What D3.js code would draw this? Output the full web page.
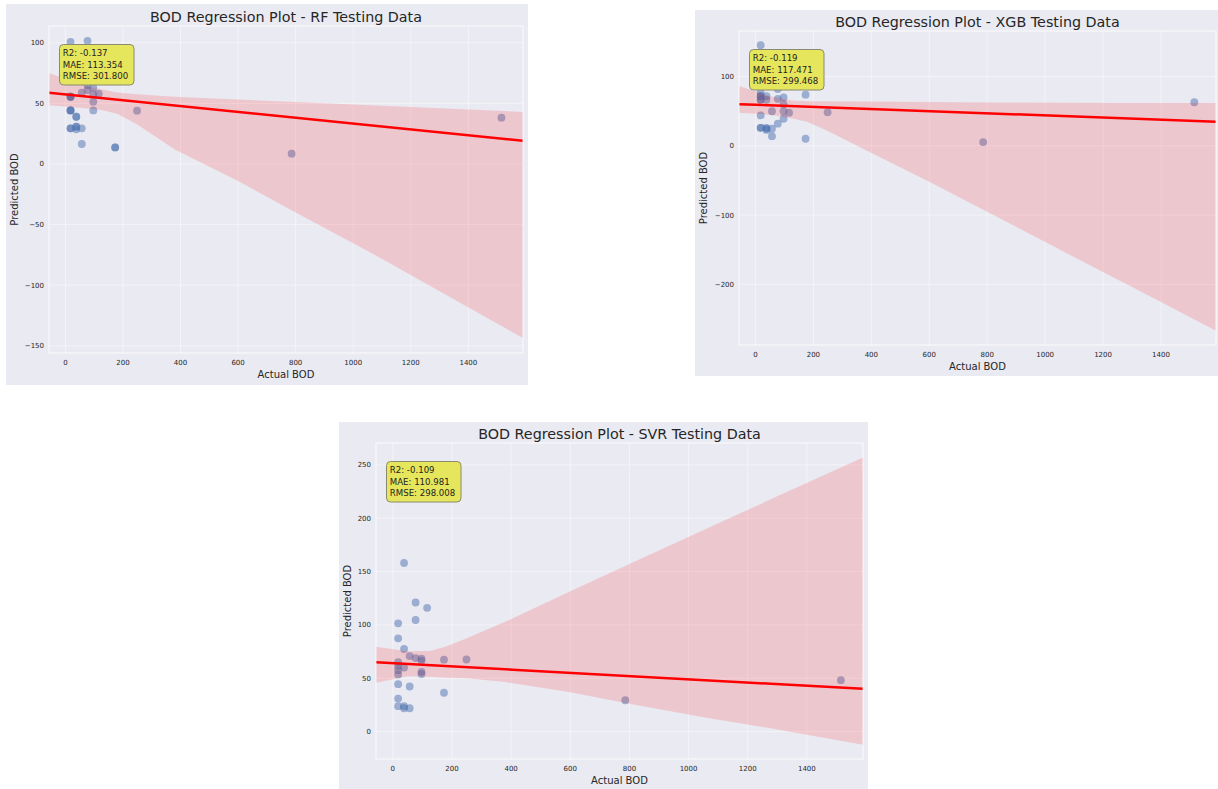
<!DOCTYPE html>
<html>
<head>
<meta charset="utf-8">
<script src="https://cdn.jsdelivr.net/npm/d3@7"></script>
<style>
  body { margin: 0; background: #ffffff; }
  svg { display: block; font-family: "DejaVu Sans", sans-serif; }
</style>
</head>
<body>
<svg id="chart" width="1218" height="789"></svg>
<script>
// Observed BOD values of the test split, shared by all three models
const actualBOD = [18, 18, 18, 18, 18, 18, 18, 18, 18,
                   38, 38, 38, 38, 38,
                   57, 57, 57,
                   77, 77, 77,
                   97, 97, 97, 97,
                   116, 173, 173, 249, 786, 1515];

// Model predictions, in the same order as actualBOD
const predRF  = [100.8, 55.5, 44.2, 44.2, 29.4, 55.5, 44.2, 29.4, 55.5,
                 39, 30.8, 28.6, 30.8, 39,
                 58.8, 29.4, 16.5,
                 101.6, 61, 65,
                 63, 57.5, 51.4, 44.2,
                 58, 13.7, 13.7, 44, 8.5, 38.2];
const predXGB = [145.3, 76.7, 71.8, 66.7, 44, 26, 66.7, 71.8, 26,
                 71.8, 66.5, 26, 23, 24.8,
                 50, 14, 24.8,
                 82, 68, 32,
                 70, 60, 50, 39.2,
                 48, 74, 10.3, 48.7, 5.5, 63];
const predSVR = [101.5, 87.4, 65, 61.4, 57.6, 53.6, 44.5, 31, 23.8,
                 158, 77.4, 60, 23.8, 21.9,
                 70.8, 42.3, 21.9,
                 121, 104.6, 68.9,
                 68.3, 66.4, 56, 54,
                 116, 67.4, 36.4, 67.6, 29.4, 48.2];

// Regression fits: [intercept, slope]
const fitRF  = [57.43, -0.02404];
const fitXGB = [59.32, -0.01536];
const fitSVR = [64.23, -0.01518];

// Bootstrap confidence band of each fit, sampled along actual BOD
const ciX     = [-57, 50, 125, 180, 250, 380, 600, 800, 1060, 1300, 1590];
const ciLoRF  = [48.4, 46.5, 44.5, 41.5, 32.5, 12, -14, -40, -73, -105, -143.7];
const ciHiRF  = [75, 66, 61.6, 59, 57.5, 55.5, 53.2, 51.2, 48.5, 46, 43];
const ciLoXGB = [47.8, 45, 40, 34.5, 21.5, -6, -52, -95, -152, -204, -267];
const ciHiXGB = [86.5, 71.5, 65.5, 64.6, 64.3, 64, 63.3, 62.8, 62.2, 62.1, 62];
const ciLoSVR = [45.8, 52, 51.5, 50.5, 50, 46.5, 37, 26.2, 13, 2.1, -12.2];
const ciHiSVR = [79.6, 75.3, 75.5, 79.7, 87.4, 103, 131.5, 157, 190, 220.5, 257];

// Error metrics shown in each panel
const modelNames = ["RF", "XGB", "SVR"];
const metricR2   = ["-0.137", "-0.119", "-0.109"];
const metricMAE  = ["113.354", "117.471", "110.981"];
const metricRMSE = ["301.800", "299.468", "298.008"];

// Tick values
const xTicks    = [0, 200, 400, 600, 800, 1000, 1200, 1400];
const yTicksRF  = [-150, -100, -50, 0, 50, 100];
const yTicksXGB = [-200, -100, 0, 100];
const yTicksSVR = [0, 50, 100, 150, 200, 250];

const svg = d3.select("#chart");
const BG = "#eaeaf2";
const TEXT = "#262626";
const fmt = v => (v < 0 ? "\u2212" + Math.abs(v) : String(v));

const panels = [
  { i: 0, pred: predRF,  fit: fitRF,  lo: ciLoRF,  hi: ciHiRF,  yTicks: yTicksRF,
    fig: { x: 6, y: 4, w: 522, h: 381 },   ax: { l: 49, t: 26, r: 523, b: 353 } },
  { i: 1, pred: predXGB, fit: fitXGB, lo: ciLoXGB, hi: ciHiXGB, yTicks: yTicksXGB,
    fig: { x: 695, y: 10, w: 523, h: 366 }, ax: { l: 739, t: 31, r: 1216, b: 345 } },
  { i: 2, pred: predSVR, fit: fitSVR, lo: ciLoSVR, hi: ciHiSVR, yTicks: yTicksSVR,
    fig: { x: 339, y: 422, w: 529, h: 367 }, ax: { l: 376, t: 443, r: 863, b: 759 } }
];

// Axis limits with a 5% margin around the data, like matplotlib autoscaling
function padded(lo, hi) {
  const m = (hi - lo) * 0.05;
  return [lo - m, hi + m];
}

panels.forEach(p => {
  const { fig, ax } = p;
  const g = svg.append("g");

  g.append("rect").attr("x", fig.x).attr("y", fig.y)
    .attr("width", fig.w).attr("height", fig.h).attr("fill", BG);

  const xDom = padded(d3.min(actualBOD), d3.max(actualBOD));
  const yAll = p.pred.concat(p.lo, p.hi);
  const yDom = padded(d3.min(yAll), d3.max(yAll));

  const x = d3.scaleLinear().domain(xDom).range([ax.l, ax.r]);
  const y = d3.scaleLinear().domain(yDom).range([ax.b, ax.t]);

  const clipId = "clip" + p.i;
  g.append("clipPath").attr("id", clipId)
    .append("rect").attr("x", ax.l).attr("y", ax.t)
    .attr("width", ax.r - ax.l).attr("height", ax.b - ax.t);

  // plot area and grid
  g.append("rect").attr("x", ax.l).attr("y", ax.t)
    .attr("width", ax.r - ax.l).attr("height", ax.b - ax.t).attr("fill", BG);

  const grid = g.append("g").attr("stroke", "#ffffff")
    .attr("stroke-width", 0.8).attr("stroke-opacity", 0.55);
  grid.selectAll("line.gx").data(xTicks).join("line")
    .attr("x1", d => x(d)).attr("x2", d => x(d))
    .attr("y1", ax.t).attr("y2", ax.b);
  grid.selectAll("line.gy").data(p.yTicks).join("line")
    .attr("x1", ax.l).attr("x2", ax.r)
    .attr("y1", d => y(d)).attr("y2", d => y(d));

  const plot = g.append("g").attr("clip-path", `url(#${clipId})`);

  // scatter of actual vs predicted
  plot.selectAll("circle").data(actualBOD.map((a, k) => [a, p.pred[k]])).join("circle")
    .attr("cx", d => x(d[0])).attr("cy", d => y(d[1])).attr("r", 3.9)
    .attr("fill", "#4c72b0").attr("fill-opacity", 0.5);

  // confidence band
  const area = d3.area()
    .x((d, k) => x(ciX[k]))
    .y0(d => y(d[0])).y1(d => y(d[1]));
  plot.append("path").datum(p.lo.map((v, k) => [v, p.hi[k]]))
    .attr("d", area).attr("fill", "#ff0000").attr("fill-opacity", 0.15);

  // regression line
  const line = d3.line().x(d => x(d)).y(d => y(p.fit[0] + p.fit[1] * d));
  plot.append("path").datum(xDom).attr("d", line)
    .attr("fill", "none").attr("stroke", "#ff0000").attr("stroke-width", 2.5);

  // axes frame
  g.append("rect").attr("x", ax.l).attr("y", ax.t)
    .attr("width", ax.r - ax.l).attr("height", ax.b - ax.t)
    .attr("fill", "none").attr("stroke", "#ffffff")
    .attr("stroke-width", 1).attr("stroke-opacity", 0.8);

  // tick labels
  g.selectAll("text.xt").data(xTicks).join("text")
    .attr("x", d => x(d)).attr("y", ax.b + 9.5).attr("dy", "0.35em")
    .attr("text-anchor", "middle").attr("font-size", 7).attr("fill", TEXT)
    .text(fmt);
  g.selectAll("text.yt").data(p.yTicks).join("text")
    .attr("x", ax.l - 5).attr("y", d => y(d)).attr("dy", "0.35em")
    .attr("text-anchor", "end").attr("font-size", 7).attr("fill", TEXT)
    .text(fmt);

  // axis labels and title
  g.append("text").attr("x", (ax.l + ax.r) / 2).attr("y", ax.b + 21).attr("dy", "0.35em")
    .attr("text-anchor", "middle").attr("font-size", 10).attr("fill", TEXT)
    .text("Actual BOD");
  g.append("text")
    .attr("transform", `translate(${fig.x + 8.5},${(ax.t + ax.b) / 2}) rotate(-90)`)
    .attr("dy", "0.35em").attr("text-anchor", "middle")
    .attr("font-size", 10).attr("fill", TEXT)
    .text("Predicted BOD");
  g.append("text").attr("x", (ax.l + ax.r) / 2).attr("y", ax.t - 9.5).attr("dy", "0.35em")
    .attr("text-anchor", "middle").attr("font-size", 14.3).attr("fill", TEXT)
    .text(`BOD Regression Plot - ${modelNames[p.i]} Testing Data`);

  // metrics box
  const bx = ax.l + 10.5, by = ax.t + 18.5;
  g.append("rect").attr("x", bx).attr("y", by).attr("width", 74.5).attr("height", 40.5)
    .attr("rx", 4).attr("fill", "#e6e65c").attr("stroke", "#8a8a70").attr("stroke-width", 1);
  const lines = [`R2: ${metricR2[p.i]}`, `MAE: ${metricMAE[p.i]}`, `RMSE: ${metricRMSE[p.i]}`];
  g.selectAll("text.m").data(lines).join("text")
    .attr("x", bx + 3.3).attr("y", (d, k) => by + 8.8 + k * 11.5).attr("dy", "0.35em")
    .attr("font-size", 8.6).attr("fill", "#222222")
    .text(d => d);
});
</script>
</body>
</html>
